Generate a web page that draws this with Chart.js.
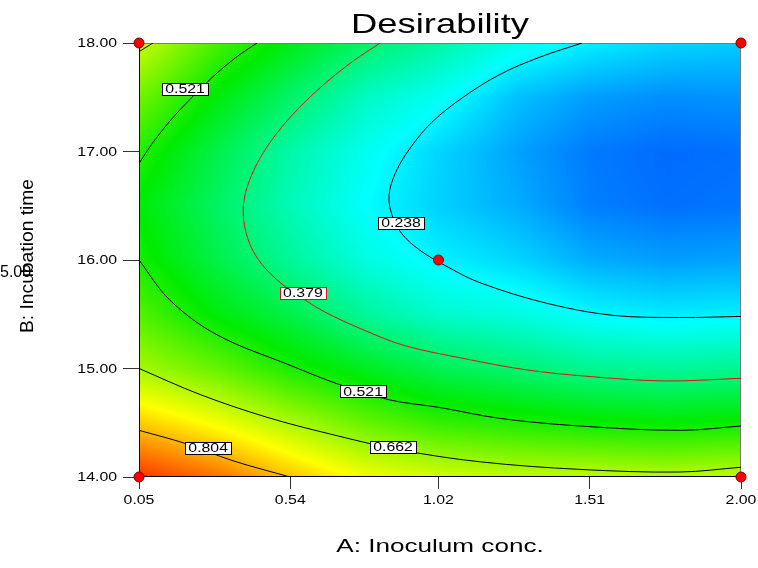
<!DOCTYPE html>
<html>
<head>
<meta charset="utf-8">
<script src="https://cdn.jsdelivr.net/npm/chart.js@4.4.1/dist/chart.umd.min.js"></script>
<style>
  html, body { margin: 0; padding: 0; background: #fff; }
  #wrap { width: 758px; height: 568px; }
</style>
</head>
<body>
<div id="wrap"><canvas id="c" width="758" height="568"></canvas></div>
<script>
// Desirability contour plot, A: inoculum conc. vs B: incubation time
const xTicks = [0.05, 0.54, 1.02, 1.51, 2.00];
const yTicks = [14, 15, 16, 17, 18];

// desirability (rows follow gridB, columns gridA)
const gridA = [0.05, 0.30, 0.54, 0.78, 1.02, 1.27, 1.51, 1.76, 2.00];
const gridB = [14.0, 14.5, 15.0, 15.5, 16.0, 16.5, 17.0, 17.5, 18.0];
const gridD = [
  [0.95, 0.89, 0.81, 0.74, 0.71, 0.69, 0.69, 0.68, 0.69],
  [0.80, 0.74, 0.67, 0.60, 0.55, 0.53, 0.51, 0.50, 0.51],
  [0.662, 0.60, 0.525, 0.47, 0.42, 0.39, 0.36, 0.35, 0.36],
  [0.58, 0.49, 0.43, 0.35, 0.30, 0.28, 0.245, 0.23, 0.235],
  [0.521, 0.43, 0.35, 0.28, 0.238, 0.21, 0.17, 0.155, 0.16],
  [0.495, 0.405, 0.32, 0.25, 0.205, 0.17, 0.125, 0.11, 0.115],
  [0.535, 0.43, 0.335, 0.265, 0.21, 0.16, 0.12, 0.105, 0.11],
  [0.61, 0.49, 0.40, 0.31, 0.26, 0.19, 0.155, 0.14, 0.145],
  [0.70, 0.57, 0.48, 0.40, 0.34, 0.27, 0.235, 0.21, 0.20]
];

// contour lines, [A, B]
const c238 = [[1.485, 18.00], [1.349, 17.87], [1.219, 17.71], [1.100, 17.50], [0.999, 17.27], [0.928, 17.03], [0.882, 16.81],
  [0.860, 16.60], [0.870, 16.41], [0.902, 16.24], [0.960, 16.09], [1.041, 15.95], [1.155, 15.79], [1.372, 15.60],
  [1.585, 15.49], [1.802, 15.47], [2.00, 15.48]];
const c379 = [[0.831, 18.00], [0.747, 17.84], [0.666, 17.66], [0.585, 17.45], [0.514, 17.23], [0.455, 17.00],
  [0.413, 16.77], [0.390, 16.55], [0.390, 16.35], [0.410, 16.14], [0.448, 15.96], [0.504, 15.80], [0.552, 15.70],
  [0.646, 15.53], [0.782, 15.35], [0.912, 15.21], [1.106, 15.09], [1.299, 14.99], [1.494, 14.93], [1.753, 14.885], [2.00, 14.91]];
const c521top = [[0.05, 16.89], [0.092, 17.07], [0.150, 17.28], [0.215, 17.48], [0.286, 17.68], [0.361, 17.86], [0.432, 18.00]];
const c521low = [[0.05, 16.00], [0.150, 15.63], [0.303, 15.31], [0.539, 15.03], [0.701, 14.85], [0.863, 14.71],
  [1.025, 14.64], [1.220, 14.54], [1.478, 14.47], [1.802, 14.43], [2.00, 14.47]];
const c662top = [[0.05, 17.92], [0.095, 18.00]];
const c662low = [[0.05, 15.00], [0.248, 14.76], [0.465, 14.55], [0.678, 14.39], [0.895, 14.25], [1.155, 14.14],
  [1.478, 14.07], [1.802, 14.046], [2.00, 14.09]];
const c804 = [[0.05, 14.43], [0.199, 14.31], [0.354, 14.15], [0.539, 14.00]];

// contour labels
const labelText = ['0.521', '0.238', '0.379', '0.521', '0.662', '0.804'];
const labelA = [0.199, 0.899, 0.581, 0.776, 0.873, 0.274];
const labelB = [17.58, 16.34, 15.70, 14.79, 14.28, 14.27];
const redLevel = '0.379';

// design points
const designA = [0.05, 2.00, 0.05, 2.00, 1.02];
const designB = [18, 18, 14, 14, 16];

const FONT = '"Liberation Sans", Arial, sans-serif';

const toXY = arr => arr.map(([a, b]) => ({ x: a, y: b }));

// blue -> cyan -> green -> yellow -> red
const STOPS = [[0, 0, 255], [0, 255, 255], [0, 236, 0], [255, 255, 0], [255, 0, 0]];
const rainbow = v => {
  const t = Math.max(0, Math.min(1, v)) * 4;
  const seg = Math.min(3, Math.floor(t));
  const f = t - seg, p = STOPS[seg], q = STOPS[seg + 1];
  return [0, 1, 2].map(k => Math.round(p[k] + (q[k] - p[k]) * f));
};

const findCell = (arr, v) => {
  let i = 0;
  while (i < arr.length - 2 && v > arr[i + 1]) i++;
  const f = Math.max(0, Math.min(1, (v - arr[i]) / (arr[i + 1] - arr[i])));
  return [i, f];
};

const sample = (a, b) => {
  const [i, fx] = findCell(gridA, a);
  const [j, fy] = findCell(gridB, b);
  const d00 = gridD[j][i], d10 = gridD[j][i + 1], d01 = gridD[j + 1][i], d11 = gridD[j + 1][i + 1];
  return (d00 * (1 - fx) + d10 * fx) * (1 - fy) + (d01 * (1 - fx) + d11 * fx) * fy;
};

const stretchText = (ctx, text, x, y, sx, align) => {
  ctx.save();
  ctx.translate(x, y);
  ctx.scale(sx, 1);
  ctx.textAlign = align;
  ctx.fillText(text, 0, 0);
  ctx.restore();
};

const fieldPlugin = {
  id: 'field',
  beforeDatasetsDraw(chart) {
    const { ctx, chartArea: a, scales: { x, y } } = chart;
    const w = Math.round(a.right - a.left), h = Math.round(a.bottom - a.top);
    const img = ctx.createImageData(w, h);
    for (let j = 0; j < h; j++) {
      const bv = y.getValueForPixel(a.top + j + 0.5);
      for (let i = 0; i < w; i++) {
        const [r, g, b] = rainbow(sample(x.getValueForPixel(a.left + i + 0.5), bv));
        const k = (j * w + i) * 4;
        img.data[k] = r; img.data[k + 1] = g; img.data[k + 2] = b; img.data[k + 3] = 255;
      }
    }
    ctx.putImageData(img, Math.round(a.left), Math.round(a.top));

    // frame
    ctx.save();
    ctx.lineWidth = 1;
    ctx.strokeStyle = '#7a7a7a';
    ctx.beginPath();
    ctx.moveTo(a.left, a.top + 0.5); ctx.lineTo(a.right, a.top + 0.5);
    ctx.moveTo(a.right - 0.5, a.top); ctx.lineTo(a.right - 0.5, a.bottom);
    ctx.stroke();
    ctx.strokeStyle = '#000';
    ctx.beginPath();
    ctx.moveTo(a.left + 0.5, a.top); ctx.lineTo(a.left + 0.5, a.bottom);
    ctx.moveTo(a.left, a.bottom - 0.5); ctx.lineTo(a.right, a.bottom - 0.5);
    ctx.stroke();
    ctx.restore();
  }
};

const textPlugin = {
  id: 'texts',
  afterDatasetsDraw(chart) {
    const { ctx, chartArea: a, scales: { x, y } } = chart;
    ctx.save();
    ctx.fillStyle = '#000';
    ctx.textBaseline = 'middle';
    ctx.font = '12px ' + FONT;
    const sx = 1.32;

    // contour labels
    labelText.forEach((t, i) => {
      const cx = x.getPixelForValue(labelA[i]), cy = y.getPixelForValue(labelB[i]);
      const tw = ctx.measureText(t).width * sx;
      const bw = Math.round(tw + 6), bh = 12;
      const bx = Math.round(cx - bw / 2) + 0.5, by = Math.round(cy - bh / 2) + 0.5;
      ctx.fillStyle = '#fff';
      ctx.fillRect(bx, by, bw, bh);
      ctx.strokeStyle = t === redLevel ? '#e01010' : '#000';
      ctx.lineWidth = 1;
      ctx.strokeRect(bx, by, bw, bh);
      ctx.fillStyle = '#000';
      stretchText(ctx, t, cx, cy + 1, sx, 'center');
    });

    // tick labels
    ctx.fillStyle = '#000';
    yTicks.forEach(v => stretchText(ctx, v.toFixed(2), 117, y.getPixelForValue(v) + 1, sx, 'right'));
    xTicks.forEach(v => stretchText(ctx, v.toFixed(2), x.getPixelForValue(v), 501, sx, 'center'));

    // titles
    ctx.textBaseline = 'alphabetic';
    ctx.font = '28px ' + FONT;
    stretchText(ctx, 'Desirability', (a.left + a.right) / 2, 33, 1.3, 'center');
    ctx.font = '18px ' + FONT;
    stretchText(ctx, 'A: Inoculum conc.', (a.left + a.right) / 2, 552, 1.45, 'center');

    ctx.save();
    ctx.translate(33, (a.top + a.bottom) / 2 - 4);
    ctx.rotate(-Math.PI / 2);
    ctx.scale(1.07, 1);
    ctx.textAlign = 'center';
    ctx.fillText('B: Incubation time', 0, 0);
    ctx.restore();

    ctx.font = '16px ' + FONT;
    ctx.textAlign = 'left';
    ctx.fillText('5.00', 0, 277);
    ctx.restore();
  }
};

const contour = (data, color) => ({
  type: 'line',
  data: toXY(data),
  borderColor: color,
  borderWidth: 1,
  tension: 0.35,
  pointRadius: 0,
  fill: false
});

new Chart(document.getElementById('c'), {
  type: 'scatter',
  data: {
    datasets: [
      {
        data: designA.map((a, i) => ({ x: a, y: designB[i] })),
        backgroundColor: '#ff0000',
        borderColor: '#7a0000',
        borderWidth: 1,
        pointRadius: 5,
        clip: false
      },
      contour(c379, '#e01010'),
      contour(c238, '#000'),
      contour(c521top, '#000'),
      contour(c521low, '#000'),
      contour(c662top, '#000'),
      contour(c662low, '#000'),
      contour(c804, '#000')
    ]
  },
  options: {
    responsive: false,
    animation: false,
    events: [],
    layout: { padding: { top: 43, right: 17, left: 0, bottom: 0 } },
    plugins: { legend: { display: false }, tooltip: { enabled: false } },
    scales: {
      x: {
        type: 'linear', min: 0.05, max: 2.0,
        afterBuildTicks: s => { s.ticks = xTicks.map(v => ({ value: v })); },
        afterFit: s => { s.height = 91; },
        grid: { display: true, drawOnChartArea: false, drawTicks: true, tickLength: 12, color: '#333' },
        border: { display: false },
        ticks: { display: false }
      },
      y: {
        type: 'linear', min: 14, max: 18,
        afterBuildTicks: s => { s.ticks = yTicks.map(v => ({ value: v })); },
        afterFit: s => { s.width = 139; },
        grid: { display: true, drawOnChartArea: false, drawTicks: true, tickLength: 16, color: '#333' },
        border: { display: false },
        ticks: { display: false }
      }
    }
  },
  plugins: [fieldPlugin, textPlugin]
});
</script>
</body>
</html>
